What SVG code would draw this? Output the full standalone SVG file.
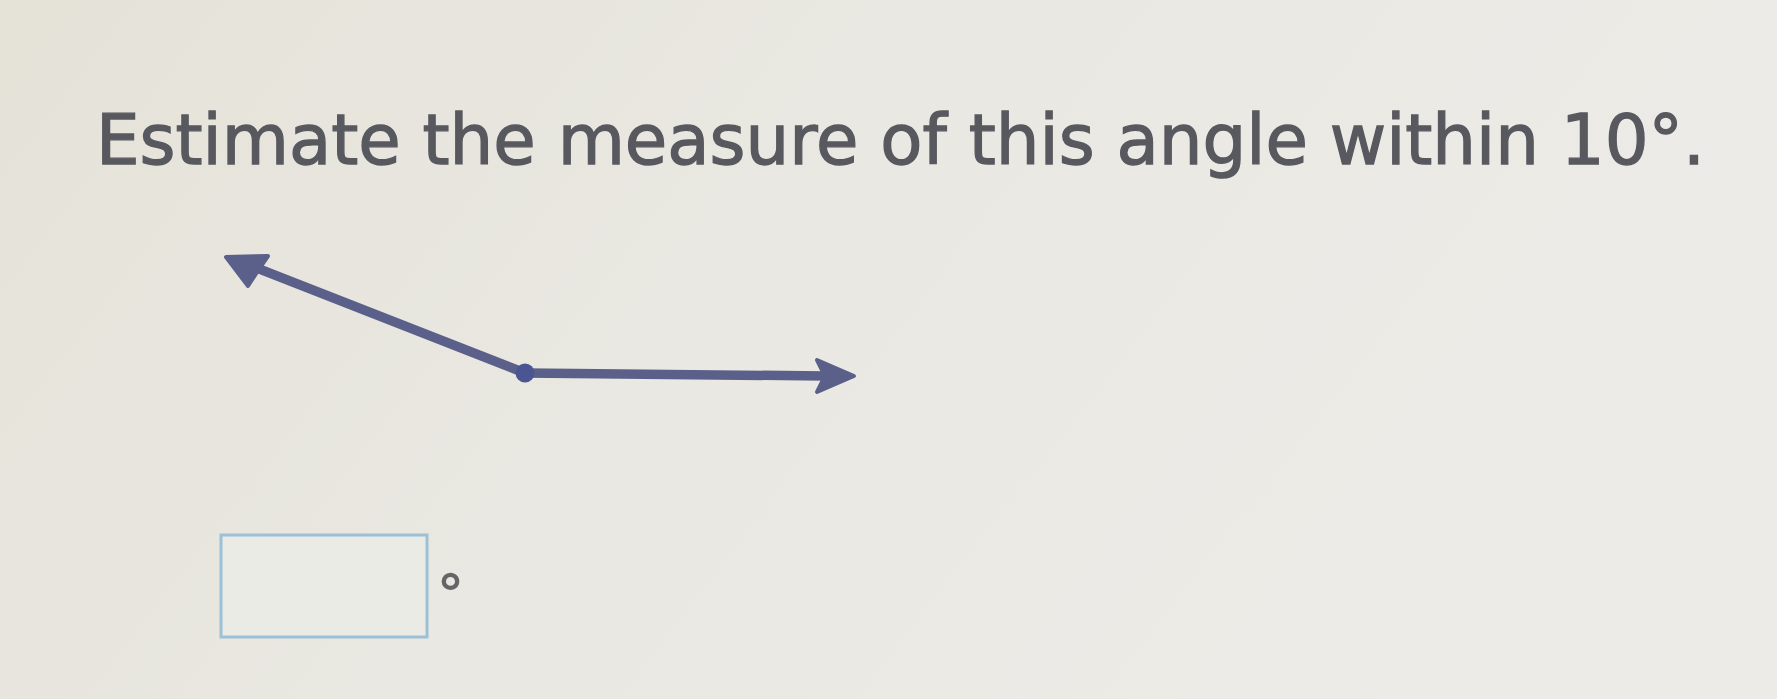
<svg xmlns="http://www.w3.org/2000/svg" width="1777" height="699" viewBox="0 0 1777 699">
  <defs>
    <linearGradient id="bg" x1="0" y1="0" x2="1" y2="0.3">
      <stop offset="0" stop-color="#e5e2d8"/>
      <stop offset="0.5" stop-color="#e9e8e2"/>
      <stop offset="1" stop-color="#ecebe7"/>
    </linearGradient>
    <style>
      .ray { stroke: #5a6089; stroke-width: 9.5; stroke-linecap: round; fill: none; }
      .head { fill: #5a6089; stroke: #5a6089; stroke-width: 4; stroke-linejoin: round; }
      .txt { font-family: "DejaVu Sans", Verdana, sans-serif; fill: #58585f; stroke: #58585f; stroke-width: 1.3; }
    </style>
  </defs>
  <rect x="0" y="0" width="1777" height="699" fill="url(#bg)"/>

  <g id="question">
    <text class="txt" x="96" y="164" font-size="69" textLength="1609" lengthAdjust="spacing">Estimate the measure of this angle within 10°.</text>
  </g>

  <g id="connectors">
    <line class="ray" x1="525" y1="373" x2="254" y2="267"/>
    <line class="ray" x1="525" y1="373" x2="826" y2="376"/>
    <polygon class="head" points="226,257 268,256 259,269 248,286"/>
    <polygon class="head" points="854,376 817,360 825,376 817,392"/>
  </g>

  <g id="vertex">
    <circle cx="525" cy="373" r="9.5" fill="#4b5592"/>
  </g>

  <g id="answer">
    <rect x="221" y="535" width="206" height="102" fill="#ebebe6" stroke="#9cc0d6" stroke-width="3"/>
    <text x="437" y="613" font-size="54" font-weight="bold" font-family="DejaVu Sans, sans-serif" fill="#656569">°</text>
  </g>
</svg>
